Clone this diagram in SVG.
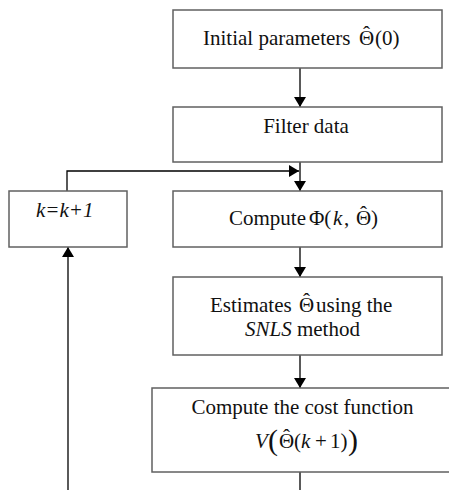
<svg xmlns="http://www.w3.org/2000/svg" width="449" height="490" viewBox="0 0 449 490">
<defs>
<marker id="ah" viewBox="0 0 10 12" refX="10" refY="6" markerWidth="10" markerHeight="12" markerUnits="userSpaceOnUse" orient="auto">
<path d="M0,0 L10,6 L0,12 Z" fill="#000"/>
</marker>
<style>
.box{fill:#fff;stroke:#606060;stroke-width:1.5}
.t{font-family:"Liberation Serif","Times New Roman",serif;font-size:21px;fill:#111}
.m{text-anchor:middle}
.i{font-style:italic}
.hat{font-family:"Liberation Serif","Times New Roman",serif;font-size:21px;fill:#111;text-anchor:middle}
.c{fill:none;stroke:#000;stroke-width:1.3}
</style>
</defs>
<rect width="449" height="490" fill="#fff"/>
<g id="connectors">
<line class="c" x1="300" y1="68" x2="300" y2="107" marker-end="url(#ah)"/>
<line class="c" x1="300" y1="162" x2="300" y2="191" marker-end="url(#ah)"/>
<polyline class="c" points="67,191 67,171 299,171" marker-end="url(#ah)"/>
<line class="c" x1="300" y1="247" x2="300" y2="277" marker-end="url(#ah)"/>
<line class="c" x1="300" y1="355" x2="300" y2="388" marker-end="url(#ah)"/>
<line class="c" x1="300" y1="472" x2="300" y2="490"/>
<line class="c" x1="68" y1="490" x2="68" y2="247" marker-end="url(#ah)"/>
</g>
<g id="init">
<rect class="box" x="173" y="10" width="269" height="58"/>
<text class="t" x="203" y="45">Initial parameters<tspan x="359">Θ</tspan><tspan x="375">(0)</tspan></text>
<text class="hat" x="366.5" y="41">ˆ</text>
</g>
<g id="filter">
<rect class="box" x="173" y="107" width="269" height="55"/>
<text class="t m" x="306" y="133">Filter data</text>
</g>
<g id="kinc">
<rect class="box" x="9" y="191" width="118" height="56"/>
<text class="t i" x="36" y="217">k=k+1</text>
</g>
<g id="compute">
<rect class="box" x="173" y="191" width="269" height="56"/>
<text class="t" x="229" y="225">Compute<tspan x="309">Φ(</tspan><tspan class="i" x="333">k</tspan><tspan x="344">,</tspan><tspan x="356">Θ</tspan><tspan x="371">)</tspan></text>
<text class="hat" x="363.5" y="221">ˆ</text>
</g>
<g id="estimate">
<rect class="box" x="173" y="277" width="269" height="78"/>
<text class="t" x="210" y="312">Estimates<tspan x="299">Θ</tspan><tspan x="316">using the</tspan></text>
<text class="hat" x="306.5" y="308">ˆ</text>
<text class="t" x="245" y="336"><tspan class="i">SNLS</tspan> method</text>
</g>
<g id="cost">
<rect class="box" x="152" y="388" width="310" height="84"/>
<text class="t m" x="302.5" y="414">Compute the cost function</text>
<text class="t" x="255" y="448"><tspan class="i">V</tspan><tspan x="268" font-size="30" dy="2">(</tspan><tspan x="279" dy="-2">Θ</tspan><tspan x="294">(</tspan><tspan class="i" x="301">k</tspan><tspan x="315">+</tspan><tspan x="330">1)</tspan><tspan x="348" font-size="30" dy="2">)</tspan></text>
<text class="hat" x="286.5" y="444">ˆ</text>
</g>
</svg>
